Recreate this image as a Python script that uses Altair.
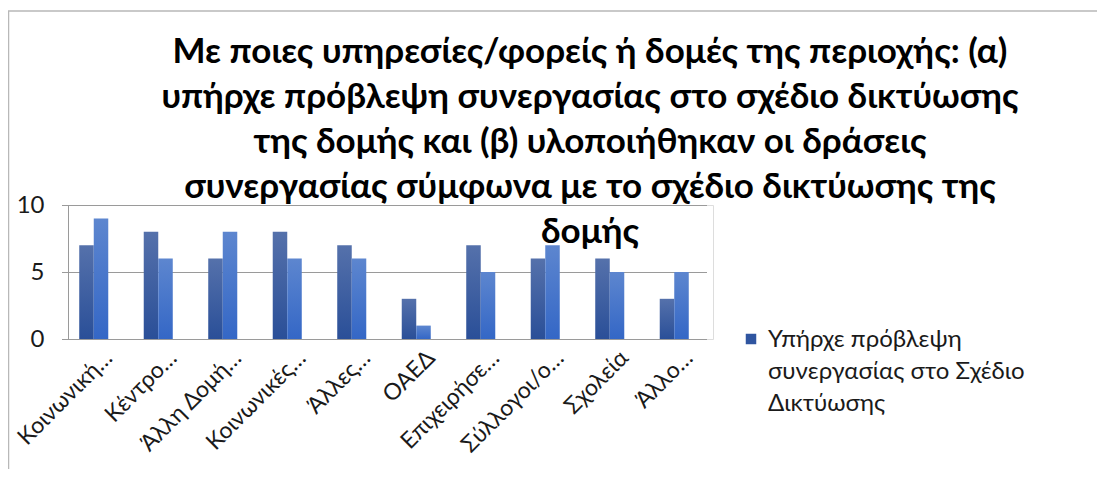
import altair as alt
import pandas as pd

categories = ["Κοινωνική…", "Κέντρο…", "Άλλη Δομή…", "Κοινωνικές…", "Άλλες…",
              "ΟΑΕΔ", "Επιχειρήσε…", "Σύλλογοι/ο…", "Σχολεία", "Άλλο…"]
series_names = ["Υπήρχε πρόβλεψη συνεργασίας στο Σχέδιο Δικτύωσης",
                "Υλοποιήθηκαν δράσεις συνεργασίας"]
planned = [7, 8, 6, 8, 7, 3, 7, 6, 6, 3]
implemented = [9, 6, 8, 6, 6, 1, 5, 7, 5, 5]
y_ticks = [0, 5, 10]

title_lines = ["Με ποιες υπηρεσίες/φορείς ή δομές της περιοχής: (α)",
               "υπήρχε πρόβλεψη συνεργασίας στο σχέδιο δικτύωσης",
               "της δομής και (β) υλοποιήθηκαν οι δράσεις",
               "συνεργασίας σύμφωνα με το σχέδιο δικτύωσης της",
               "δομής"]
legend_lines = ["Υπήρχε πρόβλεψη", "συνεργασίας στο Σχέδιο", "Δικτύωσης"]

rows = []
for i, c in enumerate(categories):
    rows.append({"cat": c, "series": series_names[0], "value": planned[i]})
    rows.append({"cat": c, "series": series_names[1], "value": implemented[i]})
df = pd.DataFrame(rows)

FONT = "Lato"
W, H = 645, 134

x_enc = alt.X("cat:N", sort=categories, title=None,
              scale=alt.Scale(paddingInner=0.55, paddingOuter=0.275, range=[-6.5, 638.5]),
              axis=alt.Axis(labelAngle=315, labelAlign="right", labelBaseline="middle",
                            labelFontSize=23, labelFont=FONT, labelColor="#1a1a1a",
                            domain=False, ticks=False, labelPadding=15, labelOffset=15,
                            labelLimit=0))
y_enc = alt.Y("value:Q", title=None,
              scale=alt.Scale(domain=[0, 10], nice=False),
              axis=alt.Axis(values=y_ticks, grid=True, gridColor="#9a9a9a",
                            domainColor="#9a9a9a", ticks=False, labelPadding=24,
                            labelFontSize=24, labelFont=FONT, labelColor="#1a1a1a"))
xo_enc = alt.XOffset("series:N", scale=alt.Scale(domain=series_names, paddingInner=0, paddingOuter=0))

def grad(top, bottom):
    return alt.Gradient(gradient="linear", x1=0, x2=0, y1=0, y2=1,
                        stops=[alt.GradientStop(color=top, offset=0),
                               alt.GradientStop(color=bottom, offset=1)])

base = alt.Chart(df)
bars_a = base.transform_filter(alt.datum.series == series_names[0]).mark_bar(
    fill=grad("#5571ab", "#2a4f98")).encode(x=x_enc, y=y_enc, xOffset=xo_enc)
bars_b = base.transform_filter(alt.datum.series == series_names[1]).mark_bar(
    fill=grad("#5d86cf", "#3467c6")).encode(x=x_enc, y=y_enc, xOffset=xo_enc)

one = alt.Chart(pd.DataFrame({"k": [0]}))
frame = one.mark_rect(fill=None, stroke="#b8b8b8", strokeWidth=1.5).encode(
    x=alt.value(-59.5), y=alt.value(-194), x2=alt.value(1200), y2=alt.value(600))
title = one.mark_text(text=title_lines, font=FONT, fontSize=35, fontWeight="bold",
                      lineHeight=45, align="center", baseline="middle", color="#000000").encode(
    x=alt.value(522), y=alt.value(-153))
leg_sq = one.mark_square(size=110, fill="#2f55a0", opacity=1).encode(
    x=alt.value(683), y=alt.value(134))
leg_txt = one.mark_text(text=legend_lines, font=FONT, fontSize=24, lineHeight=32,
                        align="left", baseline="middle", color="#1a1a1a").encode(
    x=alt.value(700), y=alt.value(135))

chart = alt.layer(frame, bars_a, bars_b, title, leg_sq, leg_txt).properties(
    width=W, height=H,
    autosize=alt.AutoSizeParams(type="none"),
    padding={"left": 60, "top": 197, "right": 384, "bottom": 130},
).configure_view(stroke=None).configure(background="white")

chart.save("out.html", embed_options={"renderer": "svg", "actions": False})
